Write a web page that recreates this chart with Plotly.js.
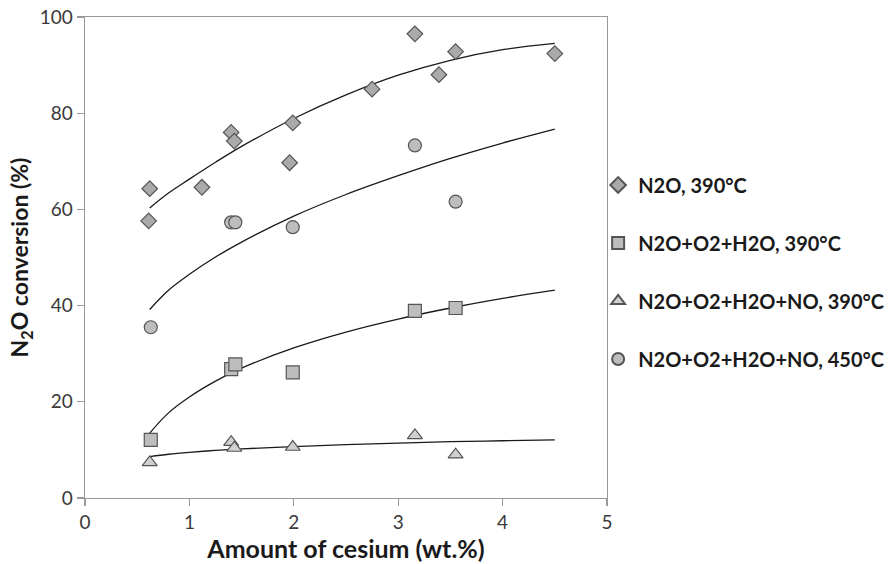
<!DOCTYPE html>
<html>
<head>
<meta charset="utf-8">
<script src="https://cdn.plot.ly/plotly-3.0.1.min.js"></script>
<style>html,body{margin:0;padding:0;background:#fff;}#chart{width:896px;height:564px;}</style>
</head>
<body>
<div id="chart"></div>
<script>
// Measured points
const n2oX = [0.62, 0.61, 1.12, 1.40, 1.43, 1.99, 1.96, 2.75, 3.16, 3.39, 3.55, 4.50];
const n2oY = [64.3, 57.6, 64.6, 76.0, 74.2, 78.0, 69.7, 85.0, 96.5, 88.0, 92.8, 92.4];

const sqX = [0.63, 1.40, 1.44, 1.99, 3.16, 3.55];
const sqY = [12.1, 26.8, 27.8, 26.1, 38.9, 39.5];

const triX = [0.62, 1.40, 1.43, 1.99, 3.16, 3.55];
const triY = [7.4, 11.6, 10.4, 10.6, 13.0, 9.0];

const cirX = [0.63, 1.40, 1.44, 1.99, 3.16, 3.55];
const cirY = [35.5, 57.3, 57.3, 56.3, 73.3, 61.6];

// Trend lines
const fitX = [0.62, 0.8, 1.0, 1.25, 1.5, 2.0, 2.5, 3.0, 3.5, 4.0, 4.5];
const fitN2oY = [60.3, 63.4, 66.3, 69.8, 73.1, 78.9, 83.8, 87.9, 91.0, 93.2, 94.5];
const fitCirY = [39.2, 43.2, 46.5, 50.1, 53.2, 58.6, 63.1, 67.0, 70.6, 73.8, 76.7];
const fitSqY  = [13.5, 17.7, 21.0, 24.3, 27.0, 31.2, 34.5, 37.2, 39.5, 41.5, 43.2];
const fitTriY = [8.6, 9.1, 9.5, 9.9, 10.2, 10.7, 11.1, 11.4, 11.7, 11.9, 12.1];

const names = ["N2O, 390°C", "N2O+O2+H2O, 390°C", "N2O+O2+H2O+NO, 390°C", "N2O+O2+H2O+NO, 450°C"];

const outline = {color: "#555555", width: 1.2};
function pts(x, y, name, symbol, size, fill, grp) {
  return {x: x, y: y, name: name, type: "scatter", mode: "markers", legendgroup: grp,
    marker: {symbol: symbol, size: size, color: fill, line: outline}};
}
function fit(y) {
  return {x: fitX, y: y, type: "scatter", mode: "lines", showlegend: false, hoverinfo: "skip",
    line: {color: "#1a1a1a", width: 1.3, shape: "spline"}};
}

const data = [
  fit(fitN2oY), fit(fitCirY), fit(fitSqY), fit(fitTriY),
  pts(n2oX, n2oY, names[0], "diamond", 12, "#aaaaaa", "a"),
  pts(sqX, sqY, names[1], "square", 13, "#bdbdbd", "b"),
  pts(triX, triY, names[2], "triangle-up", 13, "#d0d0d0", "c"),
  pts(cirX, cirY, names[3], "circle", 13, "#bdbdbd", "d")
];

const FONT = "Lato, 'Open Sans', sans-serif";
const axisCommon = {
  showline: true, linecolor: "#999999", linewidth: 1.4, mirror: true,
  showgrid: false, zeroline: false, ticks: "outside", ticklen: 7, tickcolor: "#999999", tickwidth: 1.4,
  tickfont: {family: FONT, size: 19, color: "#3a3a3a"}
};

const layout = {
  width: 896, height: 564,
  margin: {l: 85, r: 289, t: 17, b: 66, autoexpand: false},
  paper_bgcolor: "#ffffff", plot_bgcolor: "#ffffff",
  showlegend: true,
  xaxis: Object.assign({}, axisCommon, {
    range: [0, 5], dtick: 1,
    title: {text: "Amount of cesium (wt.%)", standoff: 2,
      font: {family: FONT, size: 25, color: "#1a1a1a", weight: "bold"}}
  }),
  yaxis: Object.assign({}, axisCommon, {
    range: [0, 100], dtick: 20,
    title: {text: "N<sub>2</sub>O conversion (%)", standoff: 4,
      font: {family: FONT, size: 23, color: "#1a1a1a", weight: "bold"}}
  }),
  legend: {
    x: 0.983, xanchor: "left", y: 0.47, yanchor: "middle",
    font: {family: FONT, size: 20, color: "#1a1a1a", weight: "bold"},
    tracegroupgap: 29, itemsizing: "constant", bgcolor: "rgba(0,0,0,0)"
  }
};

Plotly.newPlot("chart", data, layout, {displayModeBar: false, staticPlot: true});
</script>
</body>
</html>
